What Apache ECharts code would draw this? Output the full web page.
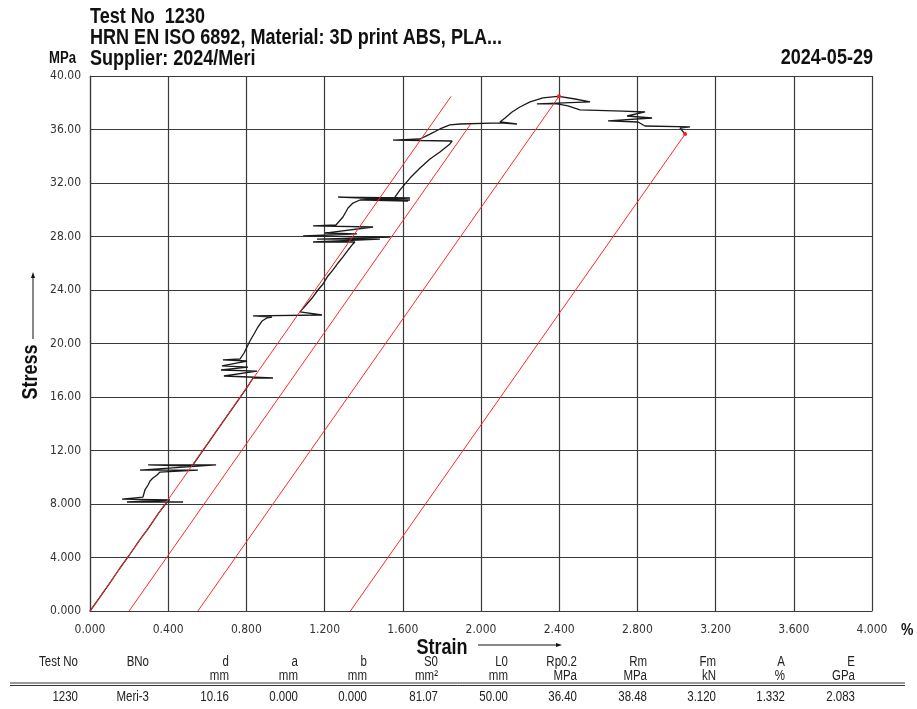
<!DOCTYPE html>
<html>
<head>
<meta charset="utf-8">
<script src="https://cdn.jsdelivr.net/npm/echarts@6/dist/echarts.min.js"></script>
<style>
html,body{margin:0;padding:0;background:#fff;}
#chart{width:917px;height:709px;}
</style>
</head>
<body>
<div id="chart"></div>
<script>
// ---- data ----
const strain = [0,0.05,0.10,0.15,0.20,0.25,0.30,0.35,0.394,
 0.476,0.189,0.409,0.164,0.271,0.281,0.297,0.307,0.322,0.343,0.358,
 0.552,0.256,0.645,0.297,0.522,
 0.570,0.614,0.660,0.716,0.760,0.800,0.834,
 0.936,0.685,0.854,0.670,0.808,0.675,0.803,0.680,0.767,
 0.788,0.803,0.818,0.839,0.859,0.880,0.905,0.931,
 0.834,1.187,1.074,1.105,1.136,1.166,1.192,1.217,1.243,1.269,1.294,1.320,1.340,
 1.355,1.141,1.483,1.161,1.535,1.090,1.366,1.202,1.448,1.141,1.258,
 1.294,1.320,1.345,1.381,
 1.637,1.269,1.637,1.407,1.627,1.560,
 1.586,1.637,1.688,1.739,1.790,1.841,1.852,
 1.550,1.688,1.739,1.790,1.841,1.893,2.097,2.184,2.097,
 2.123,2.159,2.199,2.251,2.317,2.379,2.399,
 2.481,2.558,2.286,2.389,2.445,2.506,2.726,2.839,2.747,2.875,2.650,2.803,2.839,3.069,3.018,3.044];
const stress = [0,1.02,2.06,3.14,4.15,5.22,6.22,7.30,8.15,
 8.15,8.15,8.30,8.37,8.52,9.05,9.42,9.72,9.94,10.17,10.39,
 10.54,10.54,10.92,10.92,10.84,
 11.85,12.76,13.72,14.88,15.80,16.64,17.42,
 17.42,17.57,17.94,18.02,18.24,18.32,18.69,18.77,18.84,
 19.29,19.74,20.19,20.71,21.23,21.68,21.91,21.98,
 22.06,22.13,22.36,22.88,23.40,24.00,24.45,25.05,25.50,26.02,26.47,26.99,27.36,
 27.59,27.59,27.81,27.81,27.96,28.04,28.19,28.26,28.71,28.79,28.86,
 29.46,30.13,30.50,30.73,
 30.88,30.95,30.73,30.73,30.65,30.95,
 31.48,32.37,33.12,33.79,34.32,34.92,35.14,
 35.21,35.29,35.66,36.04,36.34,36.41,36.49,36.41,36.56,
 36.86,37.31,37.68,38.06,38.36,38.46,38.48,
 38.28,38.06,37.91,37.91,37.76,37.46,37.38,37.31,37.01,36.86,36.64,36.56,36.26,36.19,36.11,35.66];

// offset (modulus) lines: start strain at zero stress, end point
const lineStartStrain = [0, 0.2, 0.552, 1.332];
const lineEndStrain   = [1.847, 1.947, 2.399, 3.044];
const lineEndStress   = [38.48, 36.40, 38.48, 35.66];
const lineEndDot      = [false, false, true, true];

const xTicks = [0,0.4,0.8,1.2,1.6,2.0,2.4,2.8,3.2,3.6,4.0];
const yTicks = [0,4,8,12,16,20,24,28,32,36,40];

const titleLines = ['Test No  1230', 'HRN EN ISO 6892, Material: 3D print ABS, PLA...', 'Supplier: 2024/Meri'];
const dateText = '2024-05-29';

const tableHeaders = ['Test No','BNo','d','a','b','S0','L0','Rp0.2','Rm','Fm','A','E'];
const tableUnits   = ['','','mm','mm','mm','mm²','mm','MPa','MPa','kN','%','GPa'];
const tableValues  = ['1230','Meri-3','10.16','0.000','0.000','81.07','50.00','36.40','38.48','3.120','1.332','2.083'];
const tableColRight = [78,149,229,298,367,438,508,577,647,716,785,855];

// ---- chart ----
const NARROW = "'Liberation Sans',Arial,Helvetica,sans-serif";
const AXISFONT = "'DejaVu Sans Condensed','Liberation Sans',sans-serif";
const SX = 0.82; // narrow-face emulation
const chart = echarts.init(document.getElementById('chart'), null, {renderer:'canvas'});

const curve = strain.map((s,i)=>[s, stress[i]]);
const series = [{
  type:'line', data: curve, showSymbol:false, symbol:'none',
  lineStyle:{color:'#1a1a1a', width:1.3}, z:3, animation:false
}];
lineStartStrain.forEach((s0,i)=>{
  series.push({
    type:'line',
    data:[[s0,0],[lineEndStrain[i], lineEndStress[i]]],
    symbol:'circle', symbolSize:(v,p)=> (p.dataIndex===1 && lineEndDot[i]) ? 4 : 0,
    itemStyle:{color:'#ff1a1a'},
    lineStyle:{color:'#ff2a2a', width:1}, z:4, animation:false
  });
});

function txt(x, y, text, font, opts){
  return Object.assign({type:'text', x:x, y:y, scaleX:SX,
    style:Object.assign({text:text, font:font+" "+NARROW, fill:'#111', textVerticalAlign:'middle'}, (opts&&opts.style)||{})},
    (opts&&opts.el)||{});
}

const graphics = [];
titleLines.forEach((t,i)=>{
  graphics.push(txt(90, 17 + i*21, t, "bold 22px"));
});
graphics.push(txt(49, 59, 'MPa', "bold 16px"));
graphics.push(txt(873, 58, dateText, "bold 22px", {style:{textAlign:'right'}}));
graphics.push(txt(901, 630, '%', "bold 17px"));
// Stress axis title (rotated)
graphics.push(txt(31, 372, 'Stress', "bold 22px", {style:{textAlign:'center'}, el:{rotation:Math.PI/2}}));
graphics.push({type:'line', shape:{x1:33,y1:339,x2:33,y2:277}, style:{stroke:'#111', lineWidth:1}});
graphics.push({type:'polygon', shape:{points:[[33,272],[31,278],[35,278]]}, style:{fill:'#111'}});
// Strain axis title
graphics.push(txt(442, 648, 'Strain', "bold 22px", {style:{textAlign:'center'}}));
graphics.push({type:'line', shape:{x1:478,y1:645,x2:557,y2:645}, style:{stroke:'#111', lineWidth:1}});
graphics.push({type:'polygon', shape:{points:[[562,645],[556,643],[556,647]]}, style:{fill:'#111'}});
// table
tableHeaders.forEach((h,i)=>{
  const o = {style:{textAlign:'right', fill:'#222'}};
  graphics.push(txt(tableColRight[i], 662, h, "14px", o));
  if (tableUnits[i]) graphics.push(txt(tableColRight[i], 676, tableUnits[i], "14px", o));
  graphics.push(txt(tableColRight[i], 697, tableValues[i], "14px", o));
});
graphics.push({type:'line', shape:{x1:10,y1:683,x2:905,y2:683}, style:{stroke:'#333', lineWidth:1}});
graphics.push({type:'line', shape:{x1:10,y1:685.5,x2:905,y2:685.5}, style:{stroke:'#333', lineWidth:1}});

chart.setOption({
  animation:false,
  backgroundColor:'#fff',
  grid:{left:90, right:45, top:76, bottom:98, containLabel:false},
  xAxis:{
    type:'value', min:xTicks[0], max:xTicks[xTicks.length-1], interval:xTicks[1]-xTicks[0],
    axisLine:{show:true, lineStyle:{color:'#3a3a3a', width:1.2}},
    axisTick:{show:false},
    splitLine:{show:true, lineStyle:{color:'#3a3a3a', width:1.2}},
    axisLabel:{formatter:v=>v.toFixed(3), fontFamily:AXISFONT, fontSize:12, color:'#333', margin:13}
  },
  yAxis:{
    type:'value', min:yTicks[0], max:yTicks[yTicks.length-1], interval:yTicks[1]-yTicks[0],
    axisLine:{show:true, lineStyle:{color:'#3a3a3a', width:1.2}},
    axisTick:{show:false},
    splitLine:{show:true, lineStyle:{color:'#3a3a3a', width:1.2}},
    axisLabel:{formatter:v=> v>=10 ? v.toFixed(2) : v.toFixed(3), fontFamily:AXISFONT, fontSize:12, color:'#333', margin:9}
  },
  series: series,
  graphic: graphics
});
</script>
</body>
</html>
